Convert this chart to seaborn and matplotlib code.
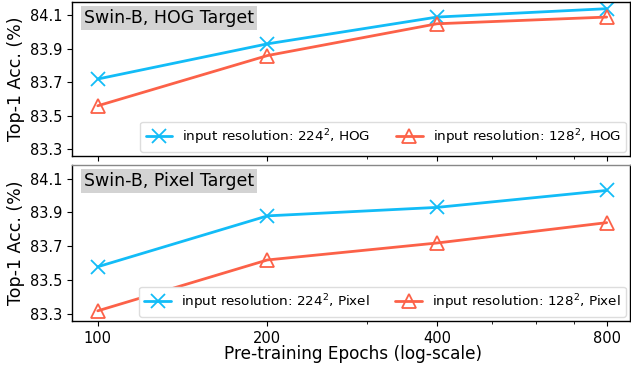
import matplotlib
matplotlib.use("Agg")
import matplotlib.pyplot as plt
import seaborn as sns
import numpy as np
from matplotlib.ticker import FixedLocator, NullFormatter

sns.set_style("ticks")
plt.rcParams['font.family'] = ['DejaVu Sans']
plt.rcParams.update({"text.color": "black", "axes.labelcolor": "black",
                     "xtick.color": "black", "ytick.color": "black",
                     "axes.edgecolor": "black"})

epochs = [100, 200, 400, 800]
hog_224 = [83.72, 83.93, 84.09, 84.14]
hog_128 = [83.56, 83.86, 84.05, 84.09]
pix_224 = [83.58, 83.88, 83.93, 84.03]
pix_128 = [83.32, 83.62, 83.72, 83.84]
yticks = [83.3, 83.5, 83.7, 83.9, 84.1]
titles = ["Swin-B, HOG Target", "Swin-B, Pixel Target"]
targets = ["HOG", "Pixel"]

blue = "#12bcf7"
red = "#fc6148"

W, H = 631, 366
fig = plt.figure(figsize=(W / 100, H / 100), dpi=100)
ax1 = fig.add_axes([72 / W, (H - 156) / H, (630 - 72) / W, 154 / H])
ax2 = fig.add_axes([72 / W, (H - 321) / H, (630 - 72) / W, 156 / H])

for ax, a, b, title, tgt in [(ax1, hog_224, hog_128, titles[0], targets[0]),
                             (ax2, pix_224, pix_128, titles[1], targets[1])]:
    sns.lineplot(x=epochs, y=a, ax=ax, color=blue, marker="x", markersize=10,
                 markeredgecolor=blue, markeredgewidth=1.3, linewidth=2,
                 label="input resolution: 224$^2$, " + tgt)
    sns.lineplot(x=epochs, y=b, ax=ax, color=red, marker="^", markersize=10,
                 markerfacecolor="none", markeredgecolor=red, markeredgewidth=1.3,
                 linewidth=2, label="input resolution: 128$^2$, " + tgt)
    ax.set_xscale("log")
    ax.set_xlim(90, 880)
    ax.set_ylim(83.26, 84.18)
    ax.xaxis.set_major_locator(FixedLocator(epochs))
    ax.xaxis.set_minor_locator(FixedLocator([300, 500, 600, 700]))
    ax.xaxis.set_minor_formatter(NullFormatter())
    ax.set_yticks(yticks)
    ax.set_yticklabels([f"{v:.1f}" for v in yticks])
    ax.tick_params(axis="both", labelsize=10.5, colors="black")
    ax.set_ylabel("Top-1 Acc. (%)", fontsize=12.5)
    ax.yaxis.set_label_coords(-0.084, 0.5)
    ax.text(0.022, 0.955, title, transform=ax.transAxes, va="top", ha="left",
            fontsize=12.5, bbox=dict(facecolor="#d3d3d3", edgecolor="none", pad=2))
    leg = ax.legend(loc="lower right", ncol=2, fontsize=9.7, handlelength=2.0,
                    columnspacing=1.9, handletextpad=0.72, borderaxespad=0.3,
                    framealpha=1, edgecolor="#dddddd", fancybox=True)
    for s in ax.spines.values():
        s.set_color("black")
        s.set_linewidth(1)

ax1.set_xticklabels([])
ax1.set_xlabel("")
ax2.set_xticklabels([str(e) for e in epochs])
ax2.spines["top"].set_color("#888888")
ax2.set_xlabel("")
fig.text(353 / W, 1 - 354 / H, "Pre-training Epochs (log-scale)", fontsize=12.2,
         ha="center", va="center")

fig.savefig("out.png", dpi=100)
